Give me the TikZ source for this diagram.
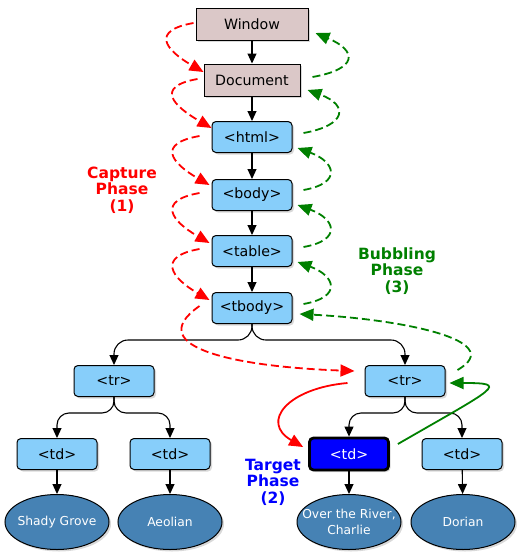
\documentclass[tikz,border=0pt]{standalone}
\usepackage{fontspec}
\setmainfont{DejaVu Sans}
\usetikzlibrary{arrows.meta,shapes.geometric,shadows}

\definecolor{winfill}{RGB}{219,200,200}
\definecolor{tagfill}{RGB}{135,206,250}
\definecolor{leaffill}{RGB}{70,130,180}
\definecolor{capred}{RGB}{255,0,0}
\definecolor{bubgreen}{RGB}{0,128,0}
\definecolor{tgtblue}{RGB}{0,0,255}

\begin{document}
\begin{tikzpicture}[x=1pt,y=1pt,
  shade/.style={drop shadow={shadow xshift=2pt,shadow yshift=-2pt,opacity=.3}},
  win/.style={draw,fill=winfill,line width=1pt,minimum height=32pt,font=\fontsize{14.2}{16}\selectfont,shade},
  tag/.style={draw,fill=tagfill,line width=1pt,rounded corners=4pt,minimum width=80pt,minimum height=31pt,font=\fontsize{14.2}{16}\selectfont,shade},
  target/.style={tag,fill=tgtblue,text=white,line width=2.8pt,minimum width=79pt,minimum height=32pt},
  leaf/.style={ellipse,draw,fill=leaffill,text=white,line width=1pt,minimum width=104pt,minimum height=55pt,inner xsep=-14pt,inner ysep=0pt,align=center,font=\fontsize{12.3}{15.5}\selectfont,shade},
  phase/.style={align=center,font=\bfseries\fontsize{15.5}{16.5}\selectfont},
  tree/.style={line width=1.1pt,-{Triangle[length=10pt,width=9pt]}},
  capture/.style={capred,line width=1.8pt,dash pattern=on 8pt off 4pt,-{Triangle[length=14pt,width=12pt]}},
  bubble/.style={bubgreen,line width=1.8pt,dash pattern=on 8pt off 4pt,-{Triangle[length=14pt,width=12pt]}}]
  \useasboundingbox (0,0) rectangle (520,-560);

  \node[win,minimum width=112pt] (win) at (252,-24) {Window};
  \node[win,minimum width=96pt] (doc) at (252,-80) {Document};
  \node[tag] (html) at (252,-137) {<html>};
  \node[tag] (body) at (252,-195) {<body>};
  \node[tag] (table) at (252,-251) {<table>};
  \node[tag] (tbody) at (252,-308) {<tbody>};

  \node[tag] (trL) at (114,-381) {<tr>};
  \node[tag] (trR) at (405,-381) {<tr>};
  \node[tag] (tdA) at (57,-454) {<td>};
  \node[tag] (tdB) at (170,-454) {<td>};
  \node[target] (tdT) at (349,-454) {<td>};
  \node[tag] (tdD) at (462,-454) {<td>};

  \node[leaf] (grove) at (57,-522) {Shady Grove};
  \node[leaf] (aeol) at (170,-522) {Aeolian};
  \node[leaf] (river) at (349,-522) {Over the River,\\Charlie};
  \node[leaf] (dorian) at (463,-522) {Dorian};

  \node[phase,text=capred] (capL) at (122,-190) {Capture\\Phase\\(1)};
  \node[phase,text=bubgreen] (bubL) at (397,-271) {Bubbling\\Phase\\(3)};
  \node[phase,text=tgtblue] (tgtL) at (273,-482) {Target\\Phase\\(2)};

  % tree
  \draw[tree] (win) -- (doc);
  \draw[tree] (doc) -- (html);
  \draw[tree] (html) -- (body);
  \draw[tree] (body) -- (table);
  \draw[tree] (table) -- (tbody);
  \draw[tree,rounded corners=14pt] (tbody.south) -- ++(0,-16) -| (trL.north);
  \draw[tree,rounded corners=14pt] (tbody.south) -- ++(0,-16) -| (trR.north);
  \draw[tree,rounded corners=12pt] (trL.south) -- ++(0,-16) -| (tdA.north);
  \draw[tree,rounded corners=12pt] (trL.south) -- ++(0,-16) -| (tdB.north);
  \draw[tree,rounded corners=12pt] (trR.south) -- ++(0,-16) -| (tdT.north);
  \draw[tree,rounded corners=12pt] (trR.south) -- ++(0,-16) -| (tdD.north);
  \draw[tree] (tdA) -- (grove);
  \draw[tree] (tdB) -- (aeol);
  \draw[tree] (tdT) -- (river);
  \draw[tree] (tdD) -- (dorian);

  % capture
  \draw[capture] ([xshift=-2pt,yshift=1pt]win.west) to[out=190,in=150,distance=44pt] ([yshift=8pt]doc.west);
  \draw[capture] ([xshift=-6pt,yshift=1pt]doc.west) to[out=190,in=150,distance=44pt] ([yshift=9pt]html.west);
  \draw[capture] ([xshift=-12pt,yshift=1pt]html.west) to[out=190,in=150,distance=44pt] ([xshift=-2pt,yshift=10pt]body.west);
  \draw[capture] ([xshift=-12pt,yshift=2pt]body.west) to[out=190,in=150,distance=44pt] ([xshift=-2pt,yshift=8pt]table.west);
  \draw[capture] ([xshift=-12pt,yshift=2pt]table.west) to[out=190,in=150,distance=44pt] ([xshift=-2pt,yshift=8pt]tbody.west);
  \draw[capture] ([xshift=-12pt,yshift=2pt]tbody.west) to[out=215,in=178,out distance=75pt,in distance=110pt] ([xshift=-10pt,yshift=10pt]trR.west);
  \draw[capture,solid] ([xshift=-17pt,yshift=-2pt]trR.west) to[out=185,in=150,out distance=60pt,in distance=50pt] ([xshift=-5pt,yshift=7pt]tdT.west);

  % bubbling
  \draw[bubble,solid] ([xshift=8pt,yshift=10pt]tdT.east) to[out=30,in=0,out distance=115pt,in distance=60pt] ([xshift=4pt,yshift=-2pt]trR.east);
  \draw[bubble] ([xshift=12pt,yshift=11pt]trR.east) to[out=30,in=-3,out distance=60pt,in distance=100pt] ([xshift=7pt,yshift=-6pt]tbody.east);
  \draw[bubble] ([xshift=11pt,yshift=4pt]tbody.east) to[out=10,in=-20,distance=40pt] ([xshift=5pt,yshift=-11pt]table.east);
  \draw[bubble] ([xshift=11pt,yshift=4pt]table.east) to[out=10,in=-20,distance=40pt] ([xshift=5pt,yshift=-10pt]body.east);
  \draw[bubble] ([xshift=11pt,yshift=5pt]body.east) to[out=10,in=-20,distance=40pt] ([xshift=5pt,yshift=-11pt]html.east);
  \draw[bubble] ([xshift=11pt,yshift=4pt]html.east) to[out=10,in=-20,distance=44pt] ([xshift=7pt,yshift=-10pt]doc.east);
  \draw[bubble] ([xshift=12pt,yshift=3pt]doc.east) to[out=10,in=-23,distance=46pt] ([xshift=7pt,yshift=-9pt]win.east);
\end{tikzpicture}
\end{document}
